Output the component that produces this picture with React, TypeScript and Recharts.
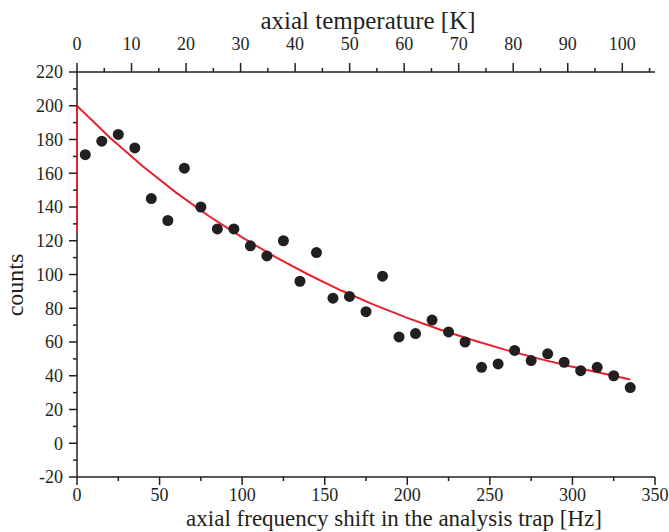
import React from "react";
import {
	ComposedChart,
	Scatter,
	XAxis,
	YAxis,
	Label,
} from "recharts";

// frequency shift [Hz] and counts
const shiftHz = [
	5, 15, 25, 35, 45, 55, 65, 75, 85, 95, 105, 115, 125, 135, 145, 155, 165,
	175, 185, 195, 205, 215, 225, 235, 245, 255, 265, 275, 285, 295, 305, 315,
	325, 335,
];
const counts = [
	171, 179, 183, 175, 145, 132, 163, 140, 127, 127, 117, 111, 120, 96, 113, 86,
	87, 78, 99, 63, 65, 73, 66, 60, 45, 47, 55, 49, 53, 48, 43, 45, 40, 33,
];

// red fit curve (starts with the vertical jump at 0 Hz)
const fitHz = [
	0, 0, 20, 40, 60, 80, 100, 120, 140, 160, 180, 200, 220, 240, 260, 280, 300,
	320, 335,
];
const fitCounts = [
	125, 200, 181, 164, 148.5, 134.5, 122, 110.5, 100, 90.5, 82, 74.3, 67.3,
	61, 55.2, 50, 45.3, 41, 37.8,
];

const yTicks = [
	-20, -10, 0, 10, 20, 30, 40, 50, 60, 70, 80, 90, 100, 110, 120, 130, 140,
	150, 160, 170, 180, 190, 200, 210, 220,
];
const bottomTicks = [
	0, 25, 50, 75, 100, 125, 150, 175, 200, 225, 250, 275, 300, 325, 350,
];
// axial temperature [K] on the top axis
const topTicks = [
	0, 5, 10, 15, 20, 25, 30, 35, 40, 45, 50, 55, 60, 65, 70, 75, 80, 85, 90,
	95, 100, 105,
];

const points = shiftHz.map((x, i) => ({ x, y: counts[i] }));
const fit = fitHz.map((x, i) => ({ x, y: fitCounts[i] }));
// invisible anchor so the top axis gets a scale
const topAnchor = topTicks.map((t) => ({ t, y: 0 }));

const INK = "#231f20";
const RED = "#e8212b";
const FONT = "'Liberation Serif', 'Times New Roman', serif";

function LeftTick(props: any) {
	const { x, y, payload } = props;
	const major = payload.value % 20 === 0;
	return (
		<g>
			<line x1={x} x2={x - (major ? 8 : 4)} y1={y} y2={y} stroke={INK} strokeWidth={1.5} />
			{major && (
				<text x={x - 14} y={y} dy="0.36em" textAnchor="end" fill={INK} fontSize={18} fontFamily={FONT}>
					{payload.value}
				</text>
			)}
		</g>
	);
}

function BottomTick(props: any) {
	const { x, y, payload } = props;
	const major = payload.value % 50 === 0;
	return (
		<g>
			<line x1={x} x2={x} y1={y} y2={y + (major ? 8 : 4)} stroke={INK} strokeWidth={1.5} />
			{major && (
				<text x={x} y={y + 18} dy="0.36em" textAnchor="middle" fill={INK} fontSize={18} fontFamily={FONT}>
					{payload.value}
				</text>
			)}
		</g>
	);
}

function TopTick(props: any) {
	const { x, y, payload } = props;
	const major = payload.value % 10 === 0;
	return (
		<g>
			<line x1={x} x2={x} y1={y} y2={y - (major ? 9 : 4)} stroke={INK} strokeWidth={1.5} />
			{major && (
				<text x={x} y={y - 28} dy="0.36em" textAnchor="middle" fill={INK} fontSize={18} fontFamily={FONT}>
					{payload.value}
				</text>
			)}
		</g>
	);
}

export default function App() {
	return (
		<div style={{ position: "fixed", top: 0, left: 0, width: 669, height: 532, background: "#fff" }}>
			<ComposedChart
				width={669}
				height={532}
				margin={{ top: 22, right: 14, bottom: 10, left: 33 }}
			>
				<XAxis
					xAxisId="bottom"
					dataKey="x"
					type="number"
					orientation="bottom"
					domain={[0, 350]}
					ticks={bottomTicks}
					interval={0}
					height={45}
					tickSize={0}
					tickMargin={0}
					tickLine={false}
					tick={<BottomTick />}
					axisLine={{ stroke: INK, strokeWidth: 1.5 }}
				>
					<Label
						content={() => (
							<text x={394} y={518} dy="0.36em" textAnchor="middle" fill={INK} fontSize={23} fontFamily={FONT}>
								axial frequency shift in the analysis trap [Hz]
							</text>
						)}
					/>
				</XAxis>
				<XAxis
					xAxisId="top"
					dataKey="t"
					type="number"
					orientation="top"
					domain={[0, 106]}
					ticks={topTicks}
					interval={0}
					height={50}
					tickSize={0}
					tickMargin={0}
					tickLine={false}
					tick={<TopTick />}
					axisLine={{ stroke: INK, strokeWidth: 1.5 }}
					allowDataOverflow
				>
					<Label
						content={() => (
							<text x={368} y={20} dy="0.36em" textAnchor="middle" fill={INK} fontSize={25} fontFamily={FONT}>
								axial temperature [K]
							</text>
						)}
					/>
				</XAxis>
				<YAxis
					dataKey="y"
					type="number"
					domain={[-20, 220]}
					ticks={yTicks}
					interval={0}
					width={44}
					tickSize={0}
					tickMargin={0}
					tickLine={false}
					tick={<LeftTick />}
					axisLine={{ stroke: INK, strokeWidth: 1.5 }}
				>
					<Label
						content={() => (
							<text x={23} y={285} textAnchor="middle" fill={INK} fontSize={24} fontFamily={FONT} transform="rotate(-90 23 285)">
								counts
							</text>
						)}
					/>
				</YAxis>
				<Scatter
					xAxisId="top"
					data={topAnchor}
					fill="none"
					shape={() => <g />}
					legendType="none"
					isAnimationActive={false}
				/>
				<Scatter
					xAxisId="bottom"
					data={fit}
					fill="none"
					stroke={RED}
					line={{ stroke: RED, strokeWidth: 2 }}
					shape={() => <g />}
					isAnimationActive={false}
				/>
				<Scatter
					xAxisId="bottom"
					data={points}
					fill={INK}
					shape={(p: any) => <circle cx={p.cx} cy={p.cy} r={5.5} fill={INK} />}
					isAnimationActive={false}
				/>
			</ComposedChart>
		</div>
	);
}
